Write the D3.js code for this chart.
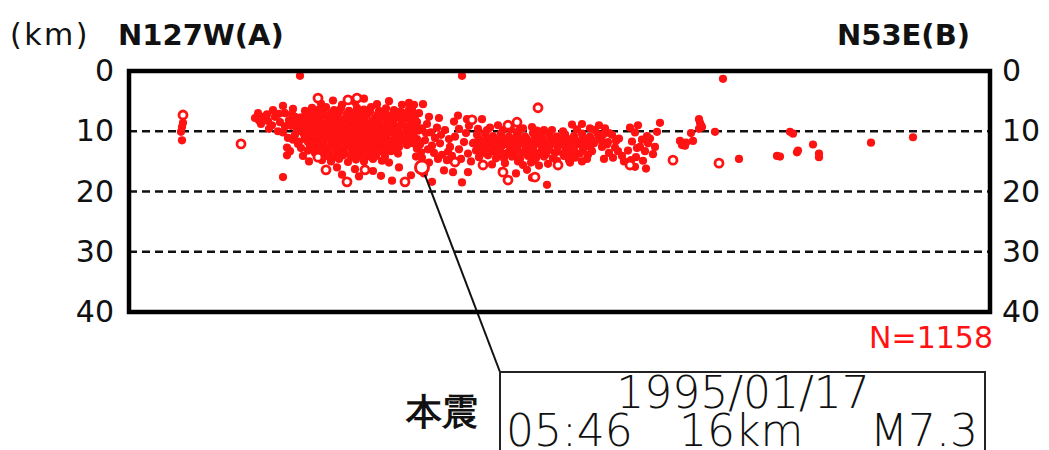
<!DOCTYPE html>
<html>
<head>
<meta charset="utf-8">
<script src="https://cdn.jsdelivr.net/npm/d3@7"></script>
<style>
  body { margin: 0; background: #fff; }
  svg { display: block; }
  text { font-family: "DejaVu Sans", sans-serif; }
</style>
</head>
<body>
<svg id="chart" width="1049" height="450"></svg>
<script>
// hypocentres projected on the section A-B : [distance along profile (km), depth (km)]
const depthTicks = [0, 10, 20, 30, 40];
const gridDepths = [10, 20, 30];

const westGroup = [
  [5.4, 8.6], [5.3, 9.3], [5.2, 10.1], [5.3, 11.5],
  [12.6, 7.8], [13.4, 7.6], [14.4, 6.5], [15.4, 5.8], [16.4, 6.3], [14.3, 9.0], [15.1, 8.5],
  [15.4, 10.2], [15.8, 12.7], [15.8, 14.0], [15.4, 17.6], [16.4, 11.4], [17.0, 11.7], [14.9, 10.0],
  [16.0, 8.2], [16.8, 9.6], [13.9, 8.3], [12.9, 7.0], [15.0, 7.1], [16.3, 7.2], [17.2, 8.0],
  [17.5, 10.5], [16.6, 10.6], [17.9, 13.2], [17.2, 12.8], [18.0, 15.0],
  [13.0, 8.2], [13.8, 7.2], [14.6, 7.6], [15.6, 7.0], [16.6, 7.6], [15.6, 9.2], [16.2, 9.1], [16.7, 8.4],
  [15.9, 11.1], [16.9, 12.1], [16.1, 13.3], [17.4, 14.1], [14.0, 9.6], [13.2, 8.8]
];

const coreGroup = [
  [19.2, 5.4], [20.4, 4.9], [21.3, 5.6], [22.6, 5.2], [23.5, 4.6], [24.8, 5.5], [26.0, 5.0], [27.3, 5.6], [28.0, 5.3],
  [17.6, 6.6], [18.3, 6.1], [19.0, 6.4], [19.7, 6.0], [20.5, 6.5], [21.2, 6.2], [22.0, 6.6], [22.8, 6.1],
  [23.5, 6.4], [24.2, 6.0], [25.0, 6.6], [25.7, 6.2], [26.5, 6.5], [27.3, 6.9], [28.0, 6.4],
  [17.9, 6.9], [18.7, 7.0], [19.4, 6.8], [20.2, 7.0], [21.0, 6.9], [21.8, 7.1], [22.6, 6.9], [23.3, 7.0],
  [24.1, 6.8], [24.9, 7.1], [25.6, 6.9], [26.4, 7.1], [27.1, 6.8], [27.9, 7.0],
  [17.2, 7.7], [17.9, 7.4], [18.6, 7.8], [19.4, 7.3], [20.1, 7.6], [20.8, 7.4], [21.6, 7.9], [22.3, 7.5],
  [23.1, 7.7], [23.8, 7.3], [24.6, 7.8], [25.3, 7.4], [26.1, 7.7], [26.8, 7.5], [27.6, 7.9], [28.4, 7.4],
  [17.5, 8.1], [18.3, 8.2], [19.0, 8.0], [19.8, 8.3], [20.5, 8.1], [21.3, 8.2], [22.0, 8.0], [22.8, 8.2],
  [23.5, 8.1], [24.3, 8.3], [25.0, 8.0], [25.8, 8.2], [26.5, 8.1], [27.3, 8.2], [28.1, 8.0],
  [17.0, 8.9], [17.7, 8.5], [18.4, 8.8], [19.1, 8.6], [19.9, 9.0], [20.6, 8.6], [21.3, 8.9], [22.1, 8.5],
  [22.8, 8.8], [23.6, 8.6], [24.3, 9.0], [25.0, 8.7], [25.8, 8.5], [26.5, 8.9], [27.3, 8.6], [28.1, 8.9], [28.8, 8.5],
  [17.3, 9.4], [18.1, 9.3], [18.8, 9.4], [19.6, 9.2], [20.3, 9.4], [21.0, 9.3], [21.8, 9.4], [22.5, 9.2],
  [23.3, 9.4], [24.0, 9.3], [24.8, 9.4], [25.5, 9.2], [26.2, 9.4], [27.0, 9.3], [27.8, 9.4], [28.5, 9.2],
  [17.3, 10.1], [18.0, 9.8], [18.8, 10.0], [19.5, 9.7], [20.2, 10.2], [21.0, 9.8], [21.7, 10.0], [22.5, 9.7],
  [23.2, 10.1], [24.0, 9.8], [24.7, 10.2], [25.4, 9.9], [26.2, 10.1], [26.9, 9.7], [27.7, 10.0], [28.4, 10.2], [29.1, 9.8],
  [17.6, 10.6], [18.4, 10.5], [19.1, 10.6], [19.9, 10.4], [20.6, 10.6], [21.4, 10.5], [22.1, 10.6], [22.9, 10.4],
  [23.6, 10.6], [24.4, 10.5], [25.1, 10.6], [25.8, 10.4], [26.6, 10.6], [27.3, 10.5], [28.1, 10.6],
  [17.6, 11.3], [18.3, 11.0], [19.1, 11.2], [19.8, 10.9], [20.5, 11.3], [21.3, 11.0], [22.0, 11.4], [22.7, 11.1],
  [23.5, 11.2], [24.2, 10.9], [25.0, 11.3], [25.7, 11.0], [26.5, 11.2], [27.2, 11.4], [28.0, 11.0], [28.8, 11.3],
  [17.9, 11.8], [18.7, 11.7], [19.4, 11.8], [20.2, 11.7], [20.9, 11.9], [21.6, 11.7], [22.4, 11.8], [23.1, 11.7],
  [23.9, 11.8], [24.6, 11.7], [25.4, 11.9], [26.1, 11.7], [26.9, 11.8], [27.6, 11.7],
  [18.1, 12.5], [18.8, 12.1], [19.5, 12.4], [20.3, 12.2], [21.0, 12.6], [21.8, 12.2], [22.5, 12.4],
  [23.3, 12.1], [24.0, 12.5], [24.8, 12.2], [25.5, 12.4], [26.3, 12.1], [27.0, 12.6], [27.8, 12.3],
  [18.5, 13.0], [19.2, 12.9], [19.9, 13.0], [20.7, 12.9], [21.4, 13.0], [22.2, 12.8], [22.9, 13.0], [23.6, 12.9],
  [24.4, 13.0], [25.1, 12.8], [25.9, 13.0], [26.6, 12.9],
  [18.6, 13.6], [19.4, 13.3], [20.1, 13.8], [20.9, 13.4], [21.6, 13.7], [22.4, 13.3], [23.1, 13.6],
  [23.9, 13.4], [24.6, 13.8], [25.4, 13.5], [26.2, 13.3], [26.9, 13.7],
  [19.0, 14.2], [19.8, 14.1], [20.6, 14.2], [21.4, 14.0], [22.2, 14.2], [23.0, 14.1], [23.8, 14.2], [24.7, 14.1], [25.6, 14.2],
  [19.3, 14.8], [20.2, 15.0], [21.0, 14.6], [21.9, 15.1], [22.7, 14.7], [23.5, 15.0], [24.4, 14.6], [25.3, 14.9], [26.0, 15.2],
  [20.8, 16.0], [22.6, 16.3], [24.4, 16.6], [25.2, 17.4], [26.3, 18.2], [21.3, 17.2], [23.0, 17.5], [27.0, 16.0], [28.2, 17.3]
];

const middleGroup = [
  [28.5, 5.6], [29.4, 5.5], [29.0, 7.0], [29.8, 8.8], [28.8, 12.9], [29.6, 11.5], [30.2, 10.2], [30.8, 9.4],
  [31.1, 12.0], [29.3, 14.4], [30.0, 15.2], [31.3, 13.9], [32.1, 12.6], [32.6, 10.9], [33.0, 9.6], [33.5, 11.8],
  [32.9, 7.4], [33.8, 8.0], [31.8, 14.8], [32.4, 16.8], [33.3, 18.5], [30.3, 18.4], [29.5, 17.0], [31.5, 16.5],
  [33.9, 13.7], [34.4, 12.0], [31.0, 7.8],
  [28.6, 8.0], [29.3, 9.5], [28.5, 11.0], [29.1, 12.2], [29.9, 13.0], [30.6, 11.1], [30.3, 12.4], [29.7, 10.3],
  [28.7, 14.2], [30.9, 14.6], [32.3, 14.1], [31.6, 9.8], [32.5, 8.4], [33.7, 10.3], [34.0, 9.1], [32.0, 11.3], [33.0, 13.0],
  [28.3, 6.5], [28.9, 9.9], [28.4, 12.0], [29.2, 13.5], [30.5, 13.6], [31.2, 10.6], [30.0, 7.6], [31.9, 13.4],
  [33.2, 14.6], [34.2, 15.0], [33.9, 16.8]
];

const centralGroup = [
  [35.3, 8.0], [36.1, 9.4], [36.9, 9.0], [39.4, 9.5], [40.3, 9.3], [41.5, 9.8], [43.4, 10.0], [44.3, 8.9], [45.3, 8.8], [46.1, 9.5], [47.0, 9.0],
  [34.9, 9.6], [35.8, 9.8], [37.4, 9.8], [38.2, 9.7], [39.0, 9.9], [40.8, 9.9], [42.3, 9.8], [44.8, 9.7], [46.6, 9.8],
  [34.8, 10.6], [35.6, 10.3], [36.4, 10.8], [37.2, 10.4], [38.0, 10.9], [38.8, 10.5], [39.6, 10.9], [40.4, 10.3],
  [41.2, 10.7], [42.0, 10.4], [42.8, 10.9], [43.6, 10.5], [44.5, 10.8], [45.3, 10.4], [46.1, 10.9], [46.9, 10.5],
  [35.0, 11.2], [35.8, 11.1], [36.6, 11.3], [37.4, 11.2], [38.2, 11.3], [39.0, 11.1], [39.8, 11.3], [40.6, 11.2],
  [41.4, 11.3], [42.2, 11.1], [43.0, 11.3], [43.8, 11.2], [44.6, 11.3], [45.4, 11.2], [46.2, 11.3], [47.0, 11.1],
  [34.5, 11.9], [35.3, 11.6], [36.1, 12.0], [36.9, 11.7], [37.7, 12.1], [38.5, 11.8], [39.3, 11.6], [40.1, 12.1],
  [40.9, 11.8], [41.7, 12.0], [42.5, 11.6], [43.3, 12.0], [44.1, 11.7], [44.9, 12.1], [45.7, 11.8], [46.5, 12.0], [47.3, 11.7],
  [34.9, 12.5], [35.7, 12.4], [36.5, 12.6], [37.3, 12.4], [38.1, 12.6], [38.9, 12.4], [39.7, 12.6], [40.5, 12.4],
  [41.3, 12.6], [42.1, 12.4], [42.9, 12.6], [43.7, 12.4], [44.5, 12.6], [45.3, 12.4], [46.1, 12.6],
  [34.7, 13.2], [35.5, 12.9], [36.3, 13.3], [37.1, 13.0], [38.0, 13.4], [38.8, 12.9], [39.6, 13.3], [40.4, 13.0],
  [41.2, 13.4], [42.0, 13.1], [42.8, 13.3], [43.7, 12.9], [44.5, 13.2], [45.4, 13.0], [46.3, 13.3],
  [35.2, 13.7], [36.0, 13.6], [36.9, 13.8], [37.7, 13.7], [38.5, 13.8], [39.3, 13.6], [40.1, 13.8], [40.9, 13.7],
  [41.7, 13.8], [42.6, 13.6], [43.4, 13.7], [44.2, 13.8], [45.1, 13.7],
  [35.0, 14.3], [35.9, 14.0], [36.7, 14.5], [38.3, 14.2], [39.1, 14.6], [39.9, 14.1], [40.7, 14.5], [41.5, 14.2],
  [42.4, 14.5], [43.5, 14.1], [44.6, 14.4], [45.8, 14.6], [37.5, 14.5], [38.9, 15.0], [40.5, 14.9], [42.8, 14.9],
  [36.3, 15.5], [37.6, 15.3], [39.4, 15.6], [40.2, 15.2], [41.0, 15.7], [41.9, 15.4], [44.1, 15.2], [45.3, 15.0],
  [37.3, 16.6], [38.7, 17.0], [39.8, 16.4], [41.8, 18.9], [40.3, 17.7], [44.0, 14.8]
];

const eastGroup = [
  [47.6, 9.5], [48.3, 10.6], [47.9, 11.8], [48.6, 12.7], [48.0, 13.6], [47.5, 14.6], [49.0, 11.2], [48.4, 14.4],
  [45.9, 13.9], [50.1, 9.4], [50.9, 9.0], [51.8, 10.8], [50.3, 11.7], [51.1, 12.6], [49.9, 13.2], [50.7, 14.3],
  [51.6, 13.3], [52.1, 11.2], [52.8, 10.1], [52.6, 12.6], [49.5, 15.0], [51.7, 16.2], [50.6, 15.9], [49.3, 14.1], [53.1, 8.6],
  [48.0, 10.3], [47.4, 10.6], [48.7, 11.6], [47.3, 12.6], [47.8, 12.2], [48.9, 13.3], [50.6, 10.2], [51.3, 11.4],
  [50.8, 12.8], [51.9, 12.0], [52.4, 13.8], [50.2, 14.8], [51.4, 14.9],
  [55.1, 11.6], [55.4, 12.0], [55.7, 11.9], [55.3, 12.3], [55.6, 12.4], [56.2, 10.3], [56.4, 11.6], [57.0, 8.0], [57.1, 8.6],
  [57.3, 9.3], [57.0, 9.6], [57.2, 9.0], [58.6, 10.1]
];

const farEastGroup = [
  [61.0, 14.6], [64.8, 14.1], [65.1, 14.2], [66.1, 10.1], [66.4, 10.4], [66.8, 13.5], [66.9, 13.2],
  [68.4, 12.2], [69.0, 13.7], [69.0, 14.3], [74.2, 11.9], [78.4, 11.0]
];

const shallowEvents = [[17.1, 0.8], [33.3, 0.8], [59.4, 1.3]];

// larger events, drawn as open circles
const largeEvents = [
  [5.4, 7.3], [11.2, 12.1], [18.9, 4.5], [18.9, 14.3], [19.7, 16.4], [21.8, 18.4], [21.9, 4.8], [22.8, 4.5],
  [23.6, 16.4], [27.6, 18.4], [32.6, 15.1], [34.3, 8.1], [37.9, 9.0], [38.8, 8.5], [40.9, 6.1],
  [35.4, 15.6], [37.4, 16.8], [37.9, 18.1], [40.6, 17.6], [42.9, 15.6], [50.1, 15.6], [54.4, 14.8], [59.0, 15.3]
];

const mainShock = [29.3, 16.0];
const eventCount = 1158;

const svg = d3.select('#chart');

const x = d3.scaleLinear().domain([0, 86.1]).range([129, 990]),
      y = d3.scaleLinear().domain([0, 40]).range([71, 312]);

const red = '#ff1212';

// dashed depth lines
svg.append('g')
  .selectAll('line')
  .data(gridDepths)
  .enter().append('line')
  .attr('x1', x.range()[0]).attr('x2', x.range()[1])
  .attr('y1', d => y(d)).attr('y2', d => y(d))
  .attr('stroke', '#111')
  .attr('stroke-width', 2.4)
  .attr('stroke-dasharray', '8,5');

const smallEvents = westGroup.concat(coreGroup, middleGroup, centralGroup, eastGroup, farEastGroup, shallowEvents);

svg.append('g')
  .selectAll('circle')
  .data(smallEvents)
  .enter().append('circle')
  .attr('cx', d => x(d[0]))
  .attr('cy', d => y(d[1]))
  .attr('r', 4.1)
  .attr('fill', red);

svg.append('g')
  .selectAll('circle')
  .data(largeEvents)
  .enter().append('circle')
  .attr('cx', d => x(d[0]))
  .attr('cy', d => y(d[1]))
  .attr('r', 4.0)
  .attr('fill', '#fff')
  .attr('stroke', red)
  .attr('stroke-width', 2.8);

// leader line to the main shock box
const box = { x: 500, y: 372, w: 485, h: 100 };
svg.append('line')
  .attr('x1', x(mainShock[0])).attr('y1', y(mainShock[1]))
  .attr('x2', box.x).attr('y2', box.y)
  .attr('stroke', '#111').attr('stroke-width', 2);

svg.append('circle')
  .attr('cx', x(mainShock[0])).attr('cy', y(mainShock[1]))
  .attr('r', 6.5)
  .attr('fill', '#fff')
  .attr('stroke', red)
  .attr('stroke-width', 3);

// frame
svg.append('rect')
  .attr('x', x.range()[0]).attr('y', y.range()[0])
  .attr('width', x.range()[1] - x.range()[0])
  .attr('height', y.range()[1] - y.range()[0])
  .attr('fill', 'none')
  .attr('stroke', '#000')
  .attr('stroke-width', 4.5);

// depth axes, left and right
const leftAxis = svg.append('g')
  .attr('transform', 'translate(' + x.range()[0] + ',0)')
  .call(d3.axisLeft(y).tickValues(depthTicks).tickSize(0).tickPadding(15));
const rightAxis = svg.append('g')
  .attr('transform', 'translate(' + x.range()[1] + ',0)')
  .call(d3.axisRight(y).tickValues(depthTicks).tickSize(0).tickPadding(12));

[leftAxis, rightAxis].forEach(a => {
  a.select('.domain').remove();
  a.selectAll('text')
    .attr('font-family', '"DejaVu Sans", sans-serif')
    .attr('font-size', 30)
    .attr('fill', '#111');
});

svg.append('text').attr('x', 10).attr('y', 45)
  .attr('font-size', 30).attr('letter-spacing', 2.5).attr('fill', '#111')
  .text('(km)');
svg.append('text').attr('x', 118).attr('y', 45)
  .attr('font-size', 29).attr('font-weight', 'bold').attr('fill', '#111')
  .text('N127W(A)');
svg.append('text').attr('x', 970).attr('y', 45)
  .attr('text-anchor', 'end')
  .attr('font-size', 29).attr('font-weight', 'bold').attr('fill', '#111')
  .text('N53E(B)');

svg.append('text').attr('x', 993).attr('y', 348)
  .attr('text-anchor', 'end')
  .attr('font-size', 30).attr('fill', red)
  .text('N=' + eventCount);

// main shock box
svg.append('rect')
  .attr('x', box.x).attr('y', box.y)
  .attr('width', box.w).attr('height', box.h)
  .attr('fill', 'none')
  .attr('stroke', '#222')
  .attr('stroke-width', 2);

svg.append('text').attr('x', 478).attr('y', 424)
  .attr('text-anchor', 'end')
  .attr('font-family', '"Noto Sans CJK JP", sans-serif')
  .attr('font-size', 36).attr('font-weight', 'bold').attr('fill', '#111')
  .text('本震');

const boxFont = 44;
svg.append('text').attr('x', 743).attr('y', 408)
  .attr('text-anchor', 'middle')
  .attr('font-size', boxFont).attr('font-weight', 200).attr('fill', '#111')
  .text('1995/01/17');
svg.append('text').attr('x', 506).attr('y', 446)
  .attr('font-size', boxFont).attr('font-weight', 200).attr('fill', '#111')
  .text('05:46');
svg.append('text').attr('x', 679).attr('y', 446)
  .attr('font-size', boxFont).attr('font-weight', 200).attr('fill', '#111')
  .text('16km');
svg.append('text').attr('x', 978).attr('y', 446)
  .attr('text-anchor', 'end')
  .attr('font-size', boxFont).attr('font-weight', 200).attr('fill', '#111')
  .text('M7.3');
</script>
</body>
</html>
